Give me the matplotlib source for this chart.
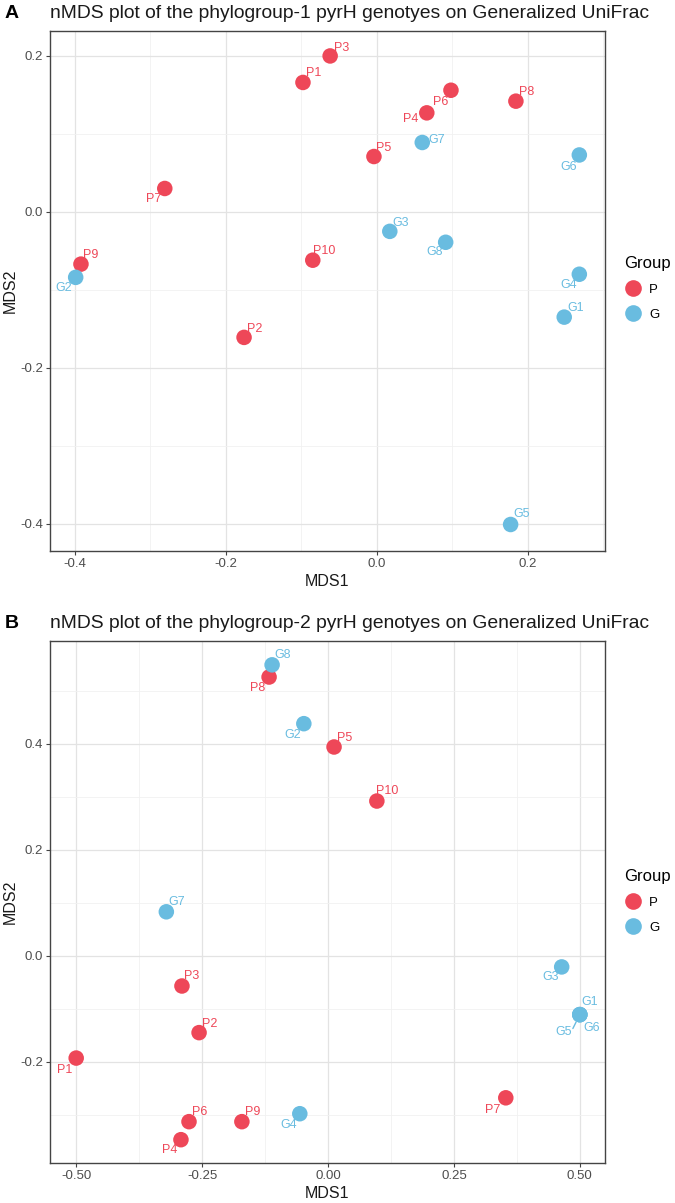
import matplotlib
matplotlib.use("Agg")
import matplotlib.pyplot as plt
from matplotlib.lines import Line2D
from matplotlib.ticker import MultipleLocator

plt.rcParams['font.family'] = ['Liberation Sans', 'DejaVu Sans']

RED = "#EE4758"
BLUE = "#69BCE0"

# ---- Panel A data ----
a_labels = ["P1", "P2", "P3", "P4", "P5", "P6", "P7", "P8", "P9", "P10",
            "G1", "G2", "G3", "G4", "G5", "G6", "G7", "G8"]
a_group = ["P"] * 10 + ["G"] * 8
a_mds1 = [-0.098, -0.176, -0.062, 0.066, -0.004, 0.098, -0.281, 0.184, -0.392, -0.085,
          0.248, -0.399, 0.017, 0.268, 0.177, 0.268, 0.060, 0.091]
a_mds2 = [0.166, -0.161, 0.200, 0.127, 0.071, 0.156, 0.030, 0.142, -0.067, -0.062,
          -0.135, -0.084, -0.025, -0.080, -0.401, 0.073, 0.089, -0.039]

# ---- Panel B data ----
b_labels = ["P1", "P2", "P3", "P4", "P5", "P6", "P7", "P8", "P9", "P10",
            "G1", "G2", "G3", "G4", "G5", "G6", "G7", "G8"]
b_group = ["P"] * 10 + ["G"] * 8
b_mds1 = [-0.500, -0.256, -0.290, -0.292, 0.012, -0.276, 0.353, -0.117, -0.171, 0.097,
          0.500, -0.048, 0.464, -0.056, 0.500, 0.500, -0.321, -0.111]
b_mds2 = [-0.193, -0.145, -0.057, -0.347, 0.394, -0.313, -0.268, 0.526, -0.313, 0.292,
          -0.111, 0.438, -0.021, -0.298, -0.111, -0.111, 0.083, 0.549]

# label offsets in pixels (dx, dy; dy positive = downward on screen)
a_off = {"P1": (11, -9), "P2": (11, -8), "P3": (11, -8), "P4": (-16, 6), "P5": (10, -9),
         "P6": (-10, 12), "P7": (-11, 11), "P8": (11, -9), "P9": (10, -9), "P10": (11, -9),
         "G1": (11, -9), "G2": (-12, 11), "G3": (11, -8), "G4": (-11, 11), "G5": (11, -10),
         "G6": (-11, 12), "G7": (14, -2), "G8": (-11, 10)}
b_off = {"P1": (-12, 12), "P2": (11, -9), "P3": (10, -10), "P4": (-11, 10), "P5": (11, -9),
         "P6": (11, -10), "P7": (-13, 12), "P8": (-11, 11), "P9": (11, -10), "P10": (10, -10),
         "G1": (10, -13), "G2": (-11, 11), "G3": (-11, 10), "G4": (-11, 11), "G5": (-16, 17),
         "G6": (12, 13), "G7": (10, -10), "G8": (11, -10)}

W, H = 675, 1203
fig = plt.figure(figsize=(W / 100, H / 100), dpi=100)


def make_axes(top, bottom):
    left, right = 50, 605
    return fig.add_axes([left / W, (H - bottom) / H, (right - left) / W, (bottom - top) / H])


def style(ax, xlim, ylim, xmaj, ymaj, xfmt, yfmt):
    ax.set_xlim(*xlim)
    ax.set_ylim(*ylim)
    ax.xaxis.set_major_locator(MultipleLocator(xmaj))
    ax.yaxis.set_major_locator(MultipleLocator(ymaj))
    ax.xaxis.set_minor_locator(MultipleLocator(xmaj / 2))
    ax.yaxis.set_minor_locator(MultipleLocator(ymaj / 2))
    ax.xaxis.set_major_formatter(plt.FuncFormatter(lambda v, p: xfmt.format(v) if abs(v) > 1e-9 else xfmt.format(0.0)))
    ax.yaxis.set_major_formatter(plt.FuncFormatter(lambda v, p: yfmt.format(v) if abs(v) > 1e-9 else yfmt.format(0.0)))
    ax.grid(True, which="major", color="#E3E3E3", linewidth=0.9, zorder=0)
    ax.grid(True, which="minor", color="#F1F1F1", linewidth=0.6, zorder=0)
    ax.set_axisbelow(True)
    for s in ax.spines.values():
        s.set_color("#444444")
        s.set_linewidth(1.0)
    ax.tick_params(which="major", length=3, width=0.8, color="#444444",
                   labelsize=9.5, labelcolor="#4D4D4D", pad=2)
    ax.tick_params(which="minor", length=0)
    ax.set_xlabel("MDS1", fontsize=11.5, color="#1A1A1A", labelpad=3)
    ax.set_ylabel("MDS2", fontsize=11.5, color="#1A1A1A", labelpad=2)


def draw(ax, labels, groups, xs, ys, offs):
    cols = [RED if g == "P" else BLUE for g in groups]
    ax.scatter(xs, ys, s=125, c=cols, edgecolors="none", zorder=3)
    for lab, g, x, y in zip(labels, groups, xs, ys):
        dx, dy = offs[lab]
        c = RED if g == "P" else BLUE
        ax.annotate(lab, (x, y), xytext=(dx * 0.72, -dy * 0.72), textcoords="offset points",
                    ha="center", va="center", fontsize=9, color=c, zorder=4)


def legend(ax, y_title):
    h = [Line2D([], [], marker="o", linestyle="none", markersize=12,
                markerfacecolor=RED, markeredgecolor="none", label="P"),
         Line2D([], [], marker="o", linestyle="none", markersize=12,
                markerfacecolor=BLUE, markeredgecolor="none", label="G")]
    lg = fig.legend(handles=h, title="Group", loc="upper left",
                    bbox_to_anchor=(624 / W, 1 - y_title / H), frameon=False,
                    fontsize=9.5, title_fontsize=12, handletextpad=0.5,
                    labelspacing=0.95, borderaxespad=0, handlelength=1.4,
                    borderpad=0)
    lg._legend_box.align = "left"


# Panel A
axA = make_axes(31, 551)
style(axA, (-0.433, 0.302), (-0.435, 0.232), 0.2, 0.2, "{:.1f}", "{:.1f}")
draw(axA, a_labels, a_group, a_mds1, a_mds2, a_off)
legend(axA, 256)
fig.text(5 / W, 1 - 13 / H, "A", fontsize=14, fontweight="bold", va="center", ha="left")
fig.text(50 / W, 1 - 13 / H, "nMDS plot of the phylogroup-1 pyrH genotyes on Generalized UniFrac",
         fontsize=13.9, va="center", ha="left", color="#1A1A1A")

# Panel B
axB = make_axes(641, 1163)
style(axB, (-0.552, 0.550), (-0.391, 0.594), 0.25, 0.2, "{:.2f}", "{:.1f}")
draw(axB, b_labels, b_group, b_mds1, b_mds2, b_off)
# repel segment for G5
axB.annotate("", xy=(b_mds1[14], b_mds2[14]), xytext=(-5, -10), textcoords="offset points",
             arrowprops=dict(arrowstyle="-", color=BLUE, lw=1, shrinkA=0, shrinkB=6))
legend(axB, 869)
fig.text(5 / W, 1 - 624 / H, "B", fontsize=14, fontweight="bold", va="center", ha="left")
fig.text(50 / W, 1 - 624 / H, "nMDS plot of the phylogroup-2 pyrH genotyes on Generalized UniFrac",
         fontsize=13.9, va="center", ha="left", color="#1A1A1A")

fig.savefig("out.png", dpi=100, facecolor="white")
